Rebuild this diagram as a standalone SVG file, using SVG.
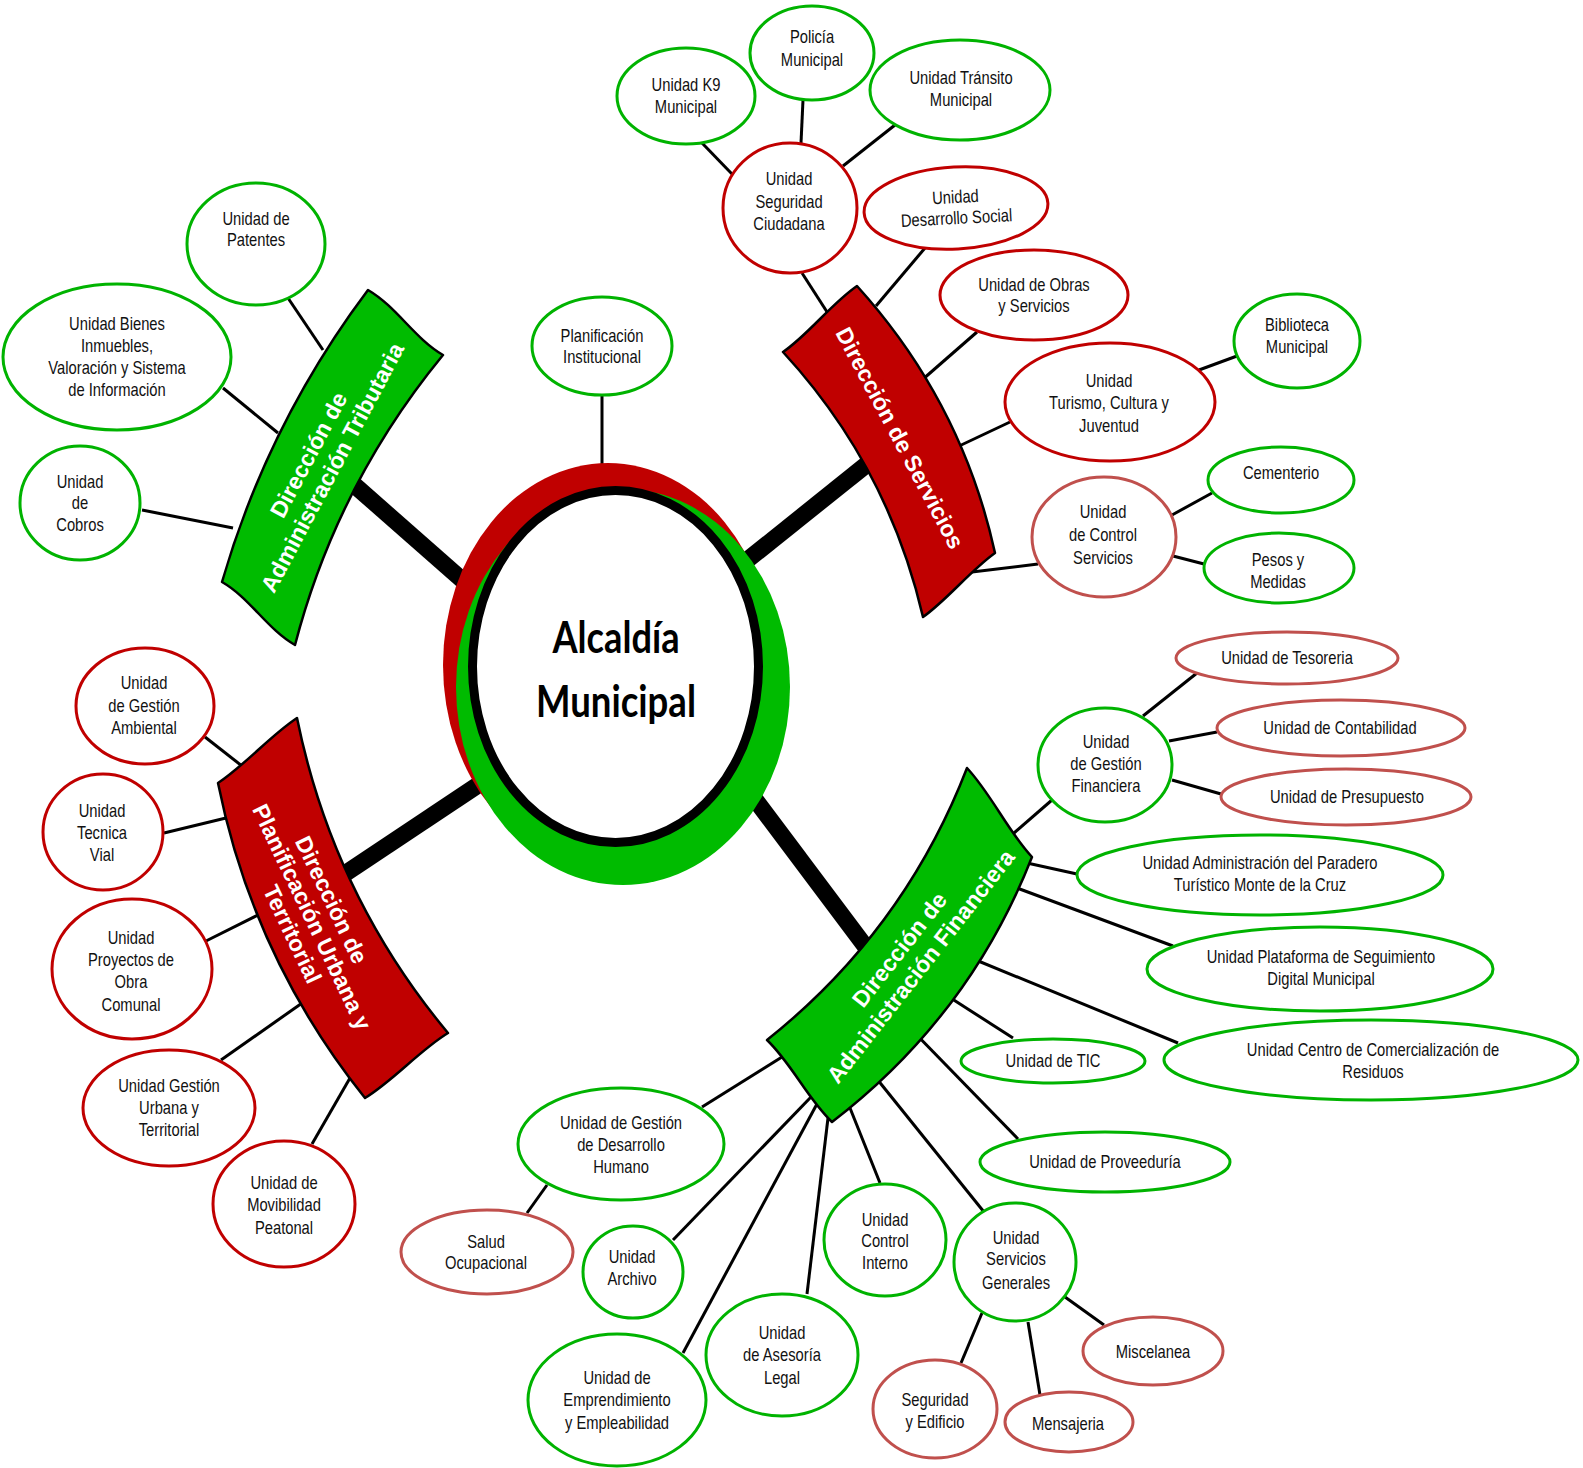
<svg xmlns="http://www.w3.org/2000/svg" width="1583" height="1468" viewBox="0 0 1583 1468">
<style>
.n ellipse{fill:#fff;stroke-width:3}
.g{stroke:#00B300}.r{stroke:#C00000}.p{stroke:#C0504D}
.t text{font-family:'Liberation Sans',Arial,sans-serif;font-size:18px;fill:#111;text-anchor:middle}
.c line{stroke:#000;stroke-width:3}
.thick line{stroke:#000;stroke-width:17}
.bn{stroke:#000;stroke-width:2.5;stroke-linejoin:round}
.bt text{font-family:'Liberation Sans',Arial,sans-serif;font-weight:bold;font-size:23px;fill:#fff;text-anchor:middle}
.ct{font-family:Lato,'Noto Sans',sans-serif;font-weight:bold;font-size:43px;fill:#000;text-anchor:middle}
</style>
<rect width="1583" height="1468" fill="#fff"/>
<g id="connectors">
<g class="c">
<line x1="288" y1="298" x2="323" y2="350"/>
<line x1="223" y1="388" x2="278" y2="433"/>
<line x1="142" y1="510" x2="233" y2="528"/>
<line x1="602" y1="396" x2="602" y2="466"/>
<line x1="702" y1="143" x2="732" y2="174"/>
<line x1="803" y1="100" x2="801" y2="143"/>
<line x1="895" y1="125" x2="843" y2="166"/>
<line x1="802" y1="273" x2="829" y2="315"/>
<line x1="925" y1="248" x2="876" y2="306"/>
<line x1="977" y1="332" x2="922" y2="380"/>
<line x1="1010" y1="422" x2="957" y2="447"/>
<line x1="1199" y1="370" x2="1237" y2="356"/>
<line x1="1038" y1="564" x2="972" y2="572"/>
<line x1="1172" y1="515" x2="1212" y2="493"/>
<line x1="1173" y1="556" x2="1204" y2="564"/>
<line x1="1197" y1="673" x2="1143" y2="716"/>
<line x1="1217" y1="732" x2="1169" y2="741"/>
<line x1="1172" y1="780" x2="1221" y2="794"/>
<line x1="1052" y1="800" x2="1014" y2="833"/>
<line x1="1077" y1="874" x2="1027" y2="863"/>
<line x1="1173" y1="946" x2="1017" y2="888"/>
<line x1="1178" y1="1043" x2="971" y2="958"/>
<line x1="1013" y1="1038" x2="946" y2="995"/>
<line x1="1018" y1="1139" x2="909" y2="1027"/>
<line x1="984" y1="1212" x2="877" y2="1079"/>
<line x1="880" y1="1183" x2="850" y2="1108"/>
<line x1="807" y1="1294" x2="828" y2="1118"/>
<line x1="683" y1="1353" x2="818" y2="1102"/>
<line x1="673" y1="1240" x2="811" y2="1097"/>
<line x1="702" y1="1107" x2="782" y2="1057"/>
<line x1="527" y1="1213" x2="547" y2="1185"/>
<line x1="1065" y1="1297" x2="1104" y2="1325"/>
<line x1="982" y1="1313" x2="961" y2="1363"/>
<line x1="1028" y1="1322" x2="1040" y2="1395"/>
<line x1="205" y1="737" x2="242" y2="766"/>
<line x1="164" y1="833" x2="226" y2="818"/>
<line x1="206" y1="941" x2="262" y2="913"/>
<line x1="221" y1="1060" x2="305" y2="1001"/>
<line x1="312" y1="1144" x2="350" y2="1078"/>
</g>
<g class="thick">
<line x1="560" y1="666" x2="352" y2="483"/>
<line x1="640" y1="646" x2="866" y2="465"/>
<line x1="652" y1="662" x2="865" y2="946"/>
<line x1="580" y1="717" x2="346" y2="873"/>
</g>
</g>
<g id="center">
<ellipse cx="608" cy="665" rx="165" ry="202" fill="#C00000"/>
<ellipse cx="623" cy="687" rx="167" ry="198" fill="#00BB00"/>
<ellipse cx="615.5" cy="666.5" rx="143" ry="176" fill="#fff" stroke="#000" stroke-width="9"/>
<text class="ct" x="616" y="653" textLength="127" lengthAdjust="spacingAndGlyphs">Alcaldía</text>
<text class="ct" x="616" y="717" textLength="160" lengthAdjust="spacingAndGlyphs">Municipal</text>
</g>
<g id="dir-tributaria">
<path class="bn" fill="#00BB00" d="M368,290 C397,307 414,338 443,355 Q337,484 295,645 C267,629 250,598 222,582 Q268,423 368,290 Z"/>
<g class="bt" transform="translate(320 461) rotate(-62)"><text y="-5">Dirección de</text><text y="22">Administración  Tributaria</text></g>
</g>
<g id="dir-servicios">
<path class="bn" fill="#C00000" d="M857,286 Q962,402 995,553 C971,570 947,600 923,617 Q888,466 783,352 C808,335 832,303 857,286 Z"/>
<g class="bt" transform="translate(900 438) rotate(62)"><text y="8">Dirección  de Servicios</text></g>
</g>
<g id="dir-financiera">
<path class="bn" fill="#00BB00" d="M967,768 C992,795 1007,830 1032,857 Q969,1017 832,1122 C807,1098 792,1064 767,1040 Q904,931 967,768 Z"/>
<g class="bt" transform="translate(910 958) rotate(-52)"><text y="-5.5">Dirección de</text><text y="21.5">Administración  Financiera</text></g>
</g>
<g id="dir-planificacion">
<path class="bn" fill="#C00000" d="M297,718 Q333,895 448,1033 C420,1050 393,1081 365,1098 Q253,958 218,783 C244,766 271,735 297,718 Z"/>
<g class="bt" transform="translate(312 917) rotate(64.5)"><text x="-7" y="-17">Dirección de</text><text y="8">Planificación  Urbana y</text><text x="7" y="33">Territorial</text></g>
</g>
<g id="n-patentes" class="n"><ellipse class="g" cx="256" cy="244" rx="69" ry="61"/><g class="t" transform="translate(256 0) scale(0.82 1)"><text y="225">Unidad de</text><text y="246">Patentes</text></g></g>
<g id="n-bienes" class="n"><ellipse class="g" cx="117" cy="357" rx="114" ry="73"/><g class="t" transform="translate(117 0) scale(0.82 1)"><text y="330">Unidad Bienes</text><text y="352">Inmuebles,</text><text y="374">Valoración y Sistema</text><text y="396">de Información</text></g></g>
<g id="n-cobros" class="n"><ellipse class="g" cx="80" cy="503" rx="60" ry="57"/><g class="t" transform="translate(80 0) scale(0.82 1)"><text y="488">Unidad</text><text y="509">de</text><text y="531">Cobros</text></g></g>
<g id="n-planinst" class="n"><ellipse class="g" cx="602" cy="346" rx="70" ry="49"/><g class="t" transform="translate(602 0) scale(0.82 1)"><text y="342">Planificación</text><text y="363">Institucional</text></g></g>
<g id="n-seguridad" class="n"><ellipse class="r" cx="790" cy="208" rx="67" ry="65"/><g class="t" transform="translate(789 0) scale(0.82 1)"><text y="185">Unidad</text><text y="208">Seguridad</text><text y="230">Ciudadana</text></g></g>
<g id="n-k9" class="n"><ellipse class="g" cx="686" cy="96" rx="69" ry="48"/><g class="t" transform="translate(686 0) scale(0.82 1)"><text y="91">Unidad K9</text><text y="113">Municipal</text></g></g>
<g id="n-policia" class="n"><ellipse class="g" cx="812" cy="53" rx="62" ry="47"/><g class="t" transform="translate(812 0) scale(0.82 1)"><text y="43">Policía</text><text y="66">Municipal</text></g></g>
<g id="n-transito" class="n"><ellipse class="g" cx="960" cy="90" rx="90" ry="50"/><g class="t" transform="translate(961 0) scale(0.82 1)"><text y="84">Unidad Tránsito</text><text y="106">Municipal</text></g></g>
<g id="n-desarrollo" class="n" transform="rotate(-3 956 208)"><ellipse class="r" cx="956" cy="208" rx="92" ry="41"/><g class="t" transform="translate(956 0) scale(0.82 1)"><text y="203">Unidad</text><text y="224">Desarrollo Social</text></g></g>
<g id="n-obras" class="n"><ellipse class="r" cx="1034" cy="295" rx="94" ry="45"/><g class="t" transform="translate(1034 0) scale(0.82 1)"><text y="291">Unidad de Obras</text><text y="312">y Servicios</text></g></g>
<g id="n-turismo" class="n"><ellipse class="r" cx="1110" cy="402" rx="105" ry="59"/><g class="t" transform="translate(1109 0) scale(0.82 1)"><text y="387">Unidad</text><text y="409">Turismo, Cultura y</text><text y="432">Juventud</text></g></g>
<g id="n-biblioteca" class="n"><ellipse class="g" cx="1297" cy="341" rx="63" ry="47"/><g class="t" transform="translate(1297 0) scale(0.82 1)"><text y="331">Biblioteca</text><text y="353">Municipal</text></g></g>
<g id="n-control-serv" class="n"><ellipse class="p" cx="1104" cy="537" rx="72" ry="60"/><g class="t" transform="translate(1103 0) scale(0.82 1)"><text y="518">Unidad</text><text y="541">de Control</text><text y="564">Servicios</text></g></g>
<g id="n-cementerio" class="n"><ellipse class="g" cx="1281" cy="480" rx="73" ry="33"/><g class="t" transform="translate(1281 0) scale(0.82 1)"><text y="479">Cementerio</text></g></g>
<g id="n-pesos" class="n"><ellipse class="g" cx="1279" cy="568" rx="75" ry="35"/><g class="t" transform="translate(1278 0) scale(0.82 1)"><text y="566">Pesos y</text><text y="588">Medidas</text></g></g>
<g id="n-gestion-fin" class="n"><ellipse class="g" cx="1105" cy="765" rx="67" ry="57"/><g class="t" transform="translate(1106 0) scale(0.82 1)"><text y="748">Unidad</text><text y="770">de Gestión</text><text y="792">Financiera</text></g></g>
<g id="n-tesoreria" class="n"><ellipse class="p" cx="1287" cy="658" rx="111" ry="26"/><g class="t" transform="translate(1287 0) scale(0.82 1)"><text y="664">Unidad de Tesoreria</text></g></g>
<g id="n-contabilidad" class="n"><ellipse class="p" cx="1341" cy="728" rx="124" ry="28"/><g class="t" transform="translate(1340 0) scale(0.82 1)"><text y="734">Unidad de Contabilidad</text></g></g>
<g id="n-presupuesto" class="n"><ellipse class="p" cx="1346" cy="797" rx="125" ry="28"/><g class="t" transform="translate(1347 0) scale(0.82 1)"><text y="803">Unidad de Presupuesto</text></g></g>
<g id="n-paradero" class="n"><ellipse class="g" cx="1260" cy="875" rx="183" ry="40"/><g class="t" transform="translate(1260 0) scale(0.82 1)"><text y="869">Unidad Administración del Paradero</text><text y="891">Turístico  Monte de la Cruz</text></g></g>
<g id="n-plataforma" class="n"><ellipse class="g" cx="1320" cy="969" rx="173" ry="42"/><g class="t" transform="translate(1321 0) scale(0.82 1)"><text y="963">Unidad Plataforma de Seguimiento</text><text y="985">Digital Municipal</text></g></g>
<g id="n-centro" class="n"><ellipse class="g" cx="1371" cy="1060" rx="207" ry="40"/><g class="t" transform="translate(1373 0) scale(0.82 1)"><text y="1056">Unidad Centro de Comercialización de</text><text y="1078">Residuos</text></g></g>
<g id="n-tic" class="n"><ellipse class="g" cx="1053" cy="1061" rx="92" ry="22"/><g class="t" transform="translate(1053 0) scale(0.82 1)"><text y="1067">Unidad de TIC</text></g></g>
<g id="n-proveeduria" class="n"><ellipse class="g" cx="1105" cy="1162" rx="125" ry="30"/><g class="t" transform="translate(1105 0) scale(0.82 1)"><text y="1168">Unidad de Proveeduría</text></g></g>
<g id="n-serv-gen" class="n"><ellipse class="g" cx="1015" cy="1262" rx="61" ry="59"/><g class="t" transform="translate(1016 0) scale(0.82 1)"><text y="1244">Unidad</text><text y="1265">Servicios</text><text y="1289">Generales</text></g></g>
<g id="n-miscelanea" class="n"><ellipse class="p" cx="1153" cy="1351" rx="70" ry="34"/><g class="t" transform="translate(1153 0) scale(0.82 1)"><text y="1358">Miscelanea</text></g></g>
<g id="n-seg-edificio" class="n"><ellipse class="p" cx="935" cy="1409" rx="62" ry="49"/><g class="t" transform="translate(935 0) scale(0.82 1)"><text y="1406">Seguridad</text><text y="1428">y Edificio</text></g></g>
<g id="n-mensajeria" class="n"><ellipse class="p" cx="1069" cy="1422" rx="64" ry="30"/><g class="t" transform="translate(1068 0) scale(0.82 1)"><text y="1430">Mensajeria</text></g></g>
<g id="n-control-int" class="n"><ellipse class="g" cx="885" cy="1240" rx="61" ry="56"/><g class="t" transform="translate(885 0) scale(0.82 1)"><text y="1226">Unidad</text><text y="1247">Control</text><text y="1269">Interno</text></g></g>
<g id="n-asesoria" class="n"><ellipse class="g" cx="782" cy="1355" rx="76" ry="61"/><g class="t" transform="translate(782 0) scale(0.82 1)"><text y="1339">Unidad</text><text y="1361">de Asesoría</text><text y="1384">Legal</text></g></g>
<g id="n-emprendimiento" class="n"><ellipse class="g" cx="617" cy="1400" rx="89" ry="66"/><g class="t" transform="translate(617 0) scale(0.82 1)"><text y="1384">Unidad de</text><text y="1406">Emprendimiento</text><text y="1429">y Empleabilidad</text></g></g>
<g id="n-archivo" class="n"><ellipse class="g" cx="633" cy="1272" rx="50" ry="46"/><g class="t" transform="translate(632 0) scale(0.82 1)"><text y="1263">Unidad</text><text y="1285">Archivo</text></g></g>
<g id="n-desarrollo-humano" class="n"><ellipse class="g" cx="621" cy="1144" rx="103" ry="56"/><g class="t" transform="translate(621 0) scale(0.82 1)"><text y="1129">Unidad de Gestión</text><text y="1151">de Desarrollo</text><text y="1173">Humano</text></g></g>
<g id="n-salud" class="n"><ellipse class="p" cx="487" cy="1252" rx="86" ry="42"/><g class="t" transform="translate(486 0) scale(0.82 1)"><text y="1248">Salud</text><text y="1269">Ocupacional</text></g></g>
<g id="n-ambiental" class="n"><ellipse class="r" cx="145" cy="706" rx="69" ry="58"/><g class="t" transform="translate(144 0) scale(0.82 1)"><text y="689">Unidad</text><text y="712">de Gestión</text><text y="734">Ambiental</text></g></g>
<g id="n-vial" class="n"><ellipse class="r" cx="103" cy="832" rx="60" ry="58"/><g class="t" transform="translate(102 0) scale(0.82 1)"><text y="817">Unidad</text><text y="839">Tecnica</text><text y="861">Vial</text></g></g>
<g id="n-proyectos" class="n"><ellipse class="r" cx="132" cy="969" rx="80" ry="70"/><g class="t" transform="translate(131 0) scale(0.82 1)"><text y="944">Unidad</text><text y="966">Proyectos de</text><text y="988">Obra</text><text y="1011">Comunal</text></g></g>
<g id="n-gestion-urbana" class="n"><ellipse class="r" cx="169" cy="1108" rx="86" ry="58"/><g class="t" transform="translate(169 0) scale(0.82 1)"><text y="1092">Unidad Gestión</text><text y="1114">Urbana y</text><text y="1136">Territorial</text></g></g>
<g id="n-movibilidad" class="n"><ellipse class="r" cx="284" cy="1204" rx="71" ry="63"/><g class="t" transform="translate(284 0) scale(0.82 1)"><text y="1189">Unidad de</text><text y="1211">Movibilidad</text><text y="1234">Peatonal</text></g></g>
</svg>
